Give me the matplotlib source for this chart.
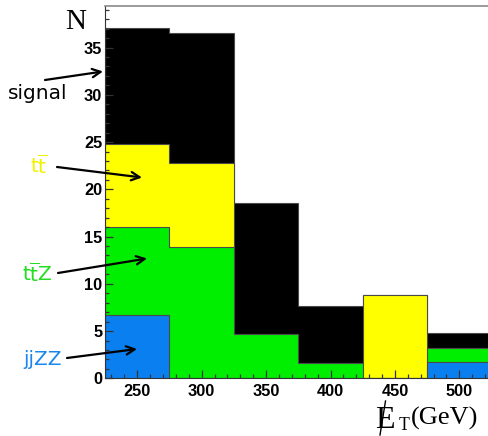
import numpy as np
import matplotlib
matplotlib.use("Agg")
import matplotlib.pyplot as plt
from matplotlib.lines import Line2D
from matplotlib.patches import FancyArrowPatch

# ---- data ----
bin_edges = [225, 275, 325, 375, 425, 475, 525]
jjZZ   = [6.7, 0.0, 0.0, 0.0, 0.0, 1.7]
ttZ    = [9.3, 13.9, 4.7, 1.6, 0.0, 1.5]
ttbar  = [8.8, 8.85, 0.0, 0.0, 8.8, 0.0]
signal = [12.3, 13.8, 13.8, 6.1, 0.0, 1.6]
x_ticks = [250, 300, 350, 400, 450, 500]
y_ticks = [0, 5, 10, 15, 20, 25, 30, 35]

plt.rcParams["mathtext.fontset"] = "dejavusans"

W, H = 489, 436
fig = plt.figure(figsize=(W / 100, H / 100), dpi=100)

def fx(px):
    return px / W

def fy(py):
    return 1 - py / H

ax = fig.add_axes([fx(105), fy(378.3), 1 - fx(105), fy(6) - fy(378.3)])

c1 = np.array(jjZZ)
c2 = c1 + np.array(ttZ)
c3 = c2 + np.array(ttbar)
c4 = c3 + np.array(signal)

layers = [(c4, "#000000"), (c3, "#ffff00"), (c2, "#00ee00"), (c1, "#0a7ff0")]
for vals, col in layers:
    ax.stairs(vals, bin_edges, fill=True, facecolor=col, edgecolor="none", baseline=0)
    ax.stairs(vals, bin_edges, fill=False, edgecolor="#4a4a4a", linewidth=0.8, baseline=0)

ax.set_xlim(225, 523)
ax.set_ylim(0, 39.4)
ax.set_xticks(x_ticks)
ax.set_xticks(np.arange(230, 521, 10), minor=True)
ax.set_yticks(y_ticks)
ax.set_yticks(np.arange(0, 40, 1), minor=True)
ax.tick_params(which="both", direction="in", color="#333333", width=0.9,
               top=False, right=False)
ax.tick_params(axis="x", which="major", length=6, pad=4)
ax.tick_params(axis="x", which="minor", length=3.2)
ax.tick_params(axis="y", which="major", length=5.5, pad=2)
ax.tick_params(axis="y", which="minor", length=3)
for lab in ax.get_xticklabels() + ax.get_yticklabels():
    lab.set_fontfamily("Liberation Sans")
    lab.set_fontweight("bold")
    lab.set_fontsize(11.8)

ax.spines["right"].set_visible(False)
ax.spines["top"].set_color("#8a8a8a")
ax.spines["top"].set_linewidth(1.2)
ax.spines["left"].set_color("#333333")
ax.spines["bottom"].set_color("#333333")

# axis titles
fig.text(fx(65), fy(29), "N", family="Liberation Serif", fontsize=21,
         ha="left", va="baseline")
fig.text(fx(375), fy(428.3), "E", family="Liberation Serif", fontsize=23,
         ha="left", va="baseline")
fig.add_artist(Line2D([fx(385.5), fx(380)], [fy(401), fy(435)],
                      transform=fig.transFigure, color="black", linewidth=1.0))
fig.text(fx(399), fy(430), "T", family="Liberation Serif", fontsize=12.7,
         ha="left", va="baseline")
fig.text(fx(411), fy(424.3), "(GeV)", family="Liberation Serif", fontsize=19,
         ha="left", va="baseline")

# annotations
notes = [
    ("signal", "#000000", (8, 98.5), (45, 80), (103, 71.5)),
    (r"$\mathrm{t}\overline{\mathrm{t}}$", "#f2f200", (30, 173.3), (57, 167), (142, 177.5)),
    (r"$\mathrm{t}\overline{\mathrm{t}}\mathrm{Z}$", "#22dd22", (22, 281.7), (58, 273), (147, 258.5)),
    ("jjZZ", "#1a86ee", (23, 365), (67, 358), (137, 349)),
]
for txt, col, tp, tail, head in notes:
    fig.text(fx(tp[0]), fy(tp[1]), txt, color=col, fontsize=14.5,
             ha="left", va="baseline", family="DejaVu Sans")
    fig.add_artist(FancyArrowPatch(
        (fx(tail[0]), fy(tail[1])), (fx(head[0]), fy(head[1])),
        transform=fig.transFigure, arrowstyle="->,head_length=6,head_width=3",
        color="black", linewidth=1.6, shrinkA=0, shrinkB=0))

fig.savefig("out.png", dpi=100)
